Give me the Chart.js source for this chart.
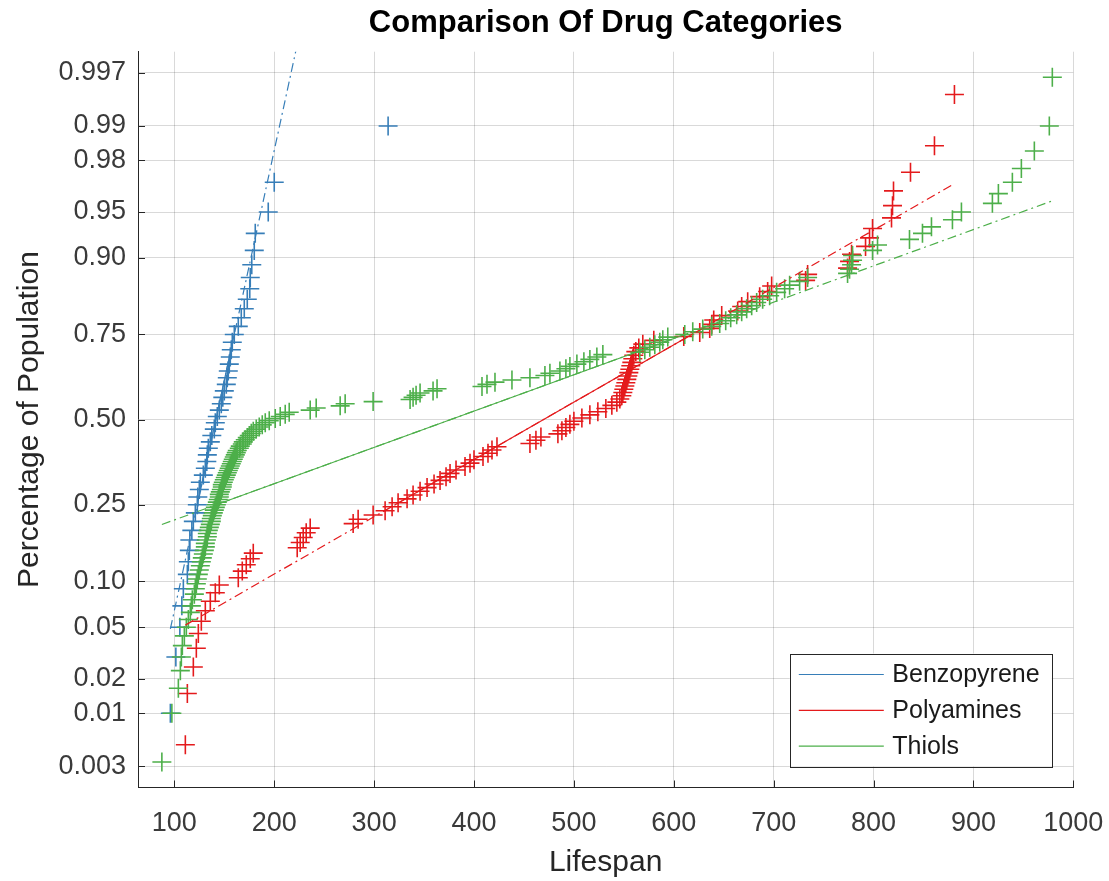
<!DOCTYPE html>
<html>
<head>
<meta charset="utf-8">
<title>Comparison Of Drug Categories</title>
<script src="https://cdn.jsdelivr.net/npm/chart.js@4.4.1/dist/chart.umd.min.js"></script>
<style>
  html, body { margin: 0; padding: 0; background: #fff; }
  #wrap { width: 1109px; height: 881px; }
</style>
</head>
<body>
<div id="wrap"><canvas id="chart"></canvas></div>
<script>
// lifespans per drug category (sorted)
const benzopyrene = [
  96, 101.5, 105.5, 107.5, 109, 113, 114, 115, 115.5, 117.5,
  119, 121, 123, 123.5, 125, 126, 129, 131, 132.5, 133,
  134, 136, 137.5, 140, 141, 143, 145, 147, 148.5, 150,
  152, 153, 154, 155, 156, 157, 158, 160, 164, 167,
  170, 173, 175.5, 176, 177.5, 180, 181, 194, 200, 314
];
const polyamines = [
  111, 113, 119, 122, 124, 127, 131, 136, 141, 145,
  164, 168, 172, 176, 179, 223, 226, 229, 232, 236,
  279, 284, 299, 311, 318, 324, 333, 339, 346, 353,
  360, 366, 372, 376, 382, 391, 396, 400, 409, 414,
  418, 423, 456, 462, 467, 484, 488, 492, 496, 500,
  508, 516, 524, 532, 538, 543, 546, 548, 549, 550,
  551, 552, 553, 554, 555, 556, 557, 558, 559, 560,
  562, 565, 569, 580, 610, 626, 636, 638, 640, 648,
  664, 668, 674, 686, 694, 698, 732, 734, 774, 776,
  778, 792, 796, 799, 818, 819, 820, 837, 861, 881
];
const thiols = [
  87.5, 97.5, 104, 106, 107, 108, 110, 112, 114, 116,
  117, 118, 120, 121, 122, 123, 124, 125, 126, 127,
  128, 129, 130, 131, 131, 132, 133, 133, 134, 135,
  136, 137, 137, 138, 139, 140, 141, 142, 143, 144,
  145, 145, 146, 147, 148, 148, 149, 150, 151, 152,
  153, 154, 155, 156, 157, 158, 159, 160, 161, 162,
  163, 165, 166, 168, 169, 171, 173, 175, 177, 179,
  182, 185, 188, 191, 195, 201, 206, 211, 215, 236,
  242, 266, 271, 299, 336, 339, 342, 346, 359, 363,
  408, 413, 421, 438, 456, 471, 476, 486, 492, 496,
  503, 510, 516, 523, 529, 566, 571, 576, 581, 586,
  589, 594, 611, 619, 629, 638, 646, 652, 657, 663,
  668, 673, 678, 683, 689, 696, 703, 711, 716, 726,
  734, 774, 776, 778, 779, 779, 799, 804, 836, 849,
  858, 879, 888, 919, 925, 939, 948, 961, 976, 979
];

const groupNames = ['Benzopyrene', 'Polyamines', 'Thiols'];
const probTickLabels = ['0.003', '0.01', '0.02', '0.05', '0.10', '0.25', '0.50',
                        '0.75', '0.90', '0.95', '0.98', '0.99', '0.997'];
const lifespanTicks = [100, 200, 300, 400, 500, 600, 700, 800, 900, 1000];

const colors = ['#377eb8', '#e41a1c', '#4daf4a'];
const FONT = '"Liberation Sans", Arial, Helvetica, sans-serif';

// inverse of the standard normal CDF (Acklam)
function norminv(p) {
  const a = [-3.969683028665376e+01, 2.209460984245205e+02, -2.759285104469687e+02,
             1.383577518672690e+02, -3.066479806614716e+01, 2.506628277459239e+00];
  const b = [-5.447609879822406e+01, 1.615858368580409e+02, -1.556989798598866e+02,
             6.680131188771972e+01, -1.328068155288572e+01];
  const c = [-7.784894002430293e-03, -3.223964580411365e-01, -2.400758277161838e+00,
             -2.549671010208784e+00, 4.374664141464968e+00, 2.938163982698783e+00];
  const d = [7.784695709041462e-03, 3.224671290700398e-01, 2.445134137142996e+00,
             3.754408661907416e+00];
  const pl = 0.02425;
  if (p < pl) {
    const q = Math.sqrt(-2 * Math.log(p));
    return (((((c[0]*q+c[1])*q+c[2])*q+c[3])*q+c[4])*q+c[5]) / ((((d[0]*q+d[1])*q+d[2])*q+d[3])*q+1);
  }
  if (p > 1 - pl) {
    const q = Math.sqrt(-2 * Math.log(1 - p));
    return -(((((c[0]*q+c[1])*q+c[2])*q+c[3])*q+c[4])*q+c[5]) / ((((d[0]*q+d[1])*q+d[2])*q+d[3])*q+1);
  }
  const q = p - 0.5, r = q * q;
  return (((((a[0]*r+a[1])*r+a[2])*r+a[3])*r+a[4])*r+a[5])*q / (((((b[0]*r+b[1])*r+b[2])*r+b[3])*r+b[4])*r+1);
}

// percentile the way prctile does it (midpoint plotting positions)
function prctile(sorted, p) {
  const n = sorted.length;
  const pos = p * n + 0.5;
  if (pos <= 1) return sorted[0];
  if (pos >= n) return sorted[n - 1];
  const lo = Math.floor(pos), f = pos - lo;
  return sorted[lo - 1] + f * (sorted[lo] - sorted[lo - 1]);
}

function buildGroup(vals, name, color, idx) {
  const s = vals.slice().sort((a, b) => a - b);
  const n = s.length;
  const pts = s.map((v, i) => ({ x: v, y: norminv((i + 0.5) / n) }));
  const q1 = prctile(s, 0.25), q3 = prctile(s, 0.75);
  const z1 = norminv(0.25), z3 = norminv(0.75);
  const zAt = x => z1 + (x - q1) * (z3 - z1) / (q3 - q1);
  return [
    {
      label: name + ' data', data: pts, showLine: false,
      pointStyle: 'cross', pointRadius: 9.5, pointHoverRadius: 9.5,
      borderColor: color, backgroundColor: color, pointBorderWidth: 1.6,
      order: 10 - idx
    },
    {
      label: name + ' fit', data: [{ x: s[0], y: zAt(s[0]) }, { x: s[n - 1], y: zAt(s[n - 1]) }],
      showLine: true, pointRadius: 0, borderColor: color, borderWidth: 1.2,
      borderDash: [9, 4, 2, 4], order: 3 - idx
    },
    {
      label: name, data: [{ x: q1, y: z1 }, { x: q3, y: z3 }],
      showLine: true, pointRadius: 0, borderColor: color, borderWidth: 1.2,
      order: 3 - idx
    }
  ];
}

const groups = [benzopyrene, polyamines, thiols];
const datasets = [];
groups.forEach((g, i) => datasets.push(...buildGroup(g, groupNames[i], colors[i], i)));

// MATLAB-style tick marks pointing into the axes
const innerTicks = {
  id: 'innerTicks',
  beforeDatasetsDraw(chart) {
    const { ctx, chartArea: a, scales: { x, y } } = chart;
    ctx.save();
    ctx.strokeStyle = '#262626';
    ctx.lineWidth = 1;
    ctx.beginPath();
    x.ticks.forEach(t => {
      const px = Math.round(x.getPixelForValue(t.value)) + 0.5;
      ctx.moveTo(px, a.bottom);
      ctx.lineTo(px, a.bottom - 7);
    });
    y.ticks.forEach(t => {
      const py = Math.round(y.getPixelForValue(t.value)) + 0.5;
      ctx.moveTo(a.left, py);
      ctx.lineTo(a.left + 7, py);
    });
    ctx.stroke();
    ctx.restore();
  }
};

// boxed legend in the lower right corner of the plot
const insetLegend = {
  id: 'insetLegend',
  afterDraw(chart) {
    const { ctx, chartArea: a } = chart;
    const w = 262, h = 113;
    const x0 = a.right - 21.5 - w, y0 = a.bottom - 21 - h;
    ctx.save();
    ctx.fillStyle = '#fff';
    ctx.fillRect(x0, y0, w, h);
    ctx.strokeStyle = '#262626';
    ctx.lineWidth = 1;
    ctx.strokeRect(Math.round(x0) + 0.5, Math.round(y0) + 0.5, w, h);
    ctx.font = '25px ' + FONT;
    ctx.textBaseline = 'middle';
    ctx.textAlign = 'left';
    groupNames.forEach((name, i) => {
      const yy = y0 + 21 + i * 35.8;
      ctx.strokeStyle = colors[i];
      ctx.lineWidth = 1.2;
      ctx.beginPath();
      ctx.moveTo(x0 + 9, yy);
      ctx.lineTo(x0 + 94, yy);
      ctx.stroke();
      ctx.fillStyle = '#1a1a1a';
      ctx.fillText(name, x0 + 102.5, yy + 1);
    });
    ctx.restore();
  }
};

const gridColor = 'rgba(0,0,0,0.15)';
const tickColor = '#3a3a3a';

new Chart(document.getElementById('chart'), {
  type: 'scatter',
  data: { datasets },
  plugins: [innerTicks, insetLegend],
  options: {
    responsive: true,
    maintainAspectRatio: false,
    devicePixelRatio: 1,
    animation: false,
    layout: { padding: { left: 0, right: 35.7, top: 0, bottom: 0 } },
    plugins: {
      legend: { display: false },
      tooltip: { enabled: false },
      title: {
        display: true,
        text: 'Comparison Of Drug Categories',
        color: '#000',
        fullSize: false,
        font: { family: FONT, size: 31, weight: 'bold' },
        padding: { top: 4.5, bottom: 10 }
      }
    },
    scales: {
      x: {
        type: 'linear',
        min: 63.6,
        max: 1000,
        afterBuildTicks: s => { s.ticks = lifespanTicks.map(v => ({ value: v })); },
        afterFit: s => { s.height = 93.5; s.paddingLeft = 0; s.paddingRight = 0; },
        grid: { color: gridColor, drawTicks: false },
        border: { display: true, color: '#262626' },
        ticks: { autoSkip: false, maxRotation: 0, padding: 20, color: tickColor,
                 font: { family: FONT, size: 27 },
                 callback: v => String(v) },
        title: { display: true, text: 'Lifespan', color: '#262626',
                 font: { family: FONT, size: 30 }, padding: { top: 0, bottom: 0 } }
      },
      y: {
        type: 'linear',
        min: -2.915,
        max: 2.915,
        afterBuildTicks: s => {
          s.ticks = probTickLabels.map(l => ({ value: norminv(parseFloat(l)) }));
        },
        afterFit: s => { s.width = 138; s.paddingTop = 0; s.paddingBottom = 0; },
        grid: { color: gridColor, drawTicks: false },
        border: { display: true, color: '#262626' },
        ticks: { autoSkip: false, padding: 12, color: tickColor,
                 font: { family: FONT, size: 27 },
                 callback: (v, i) => probTickLabels[i] },
        title: { display: true, text: 'Percentage of Population', color: '#262626',
                 font: { family: FONT, size: 30 }, padding: { top: 12, bottom: 0 } }
      }
    }
  }
});
</script>
</body>
</html>
